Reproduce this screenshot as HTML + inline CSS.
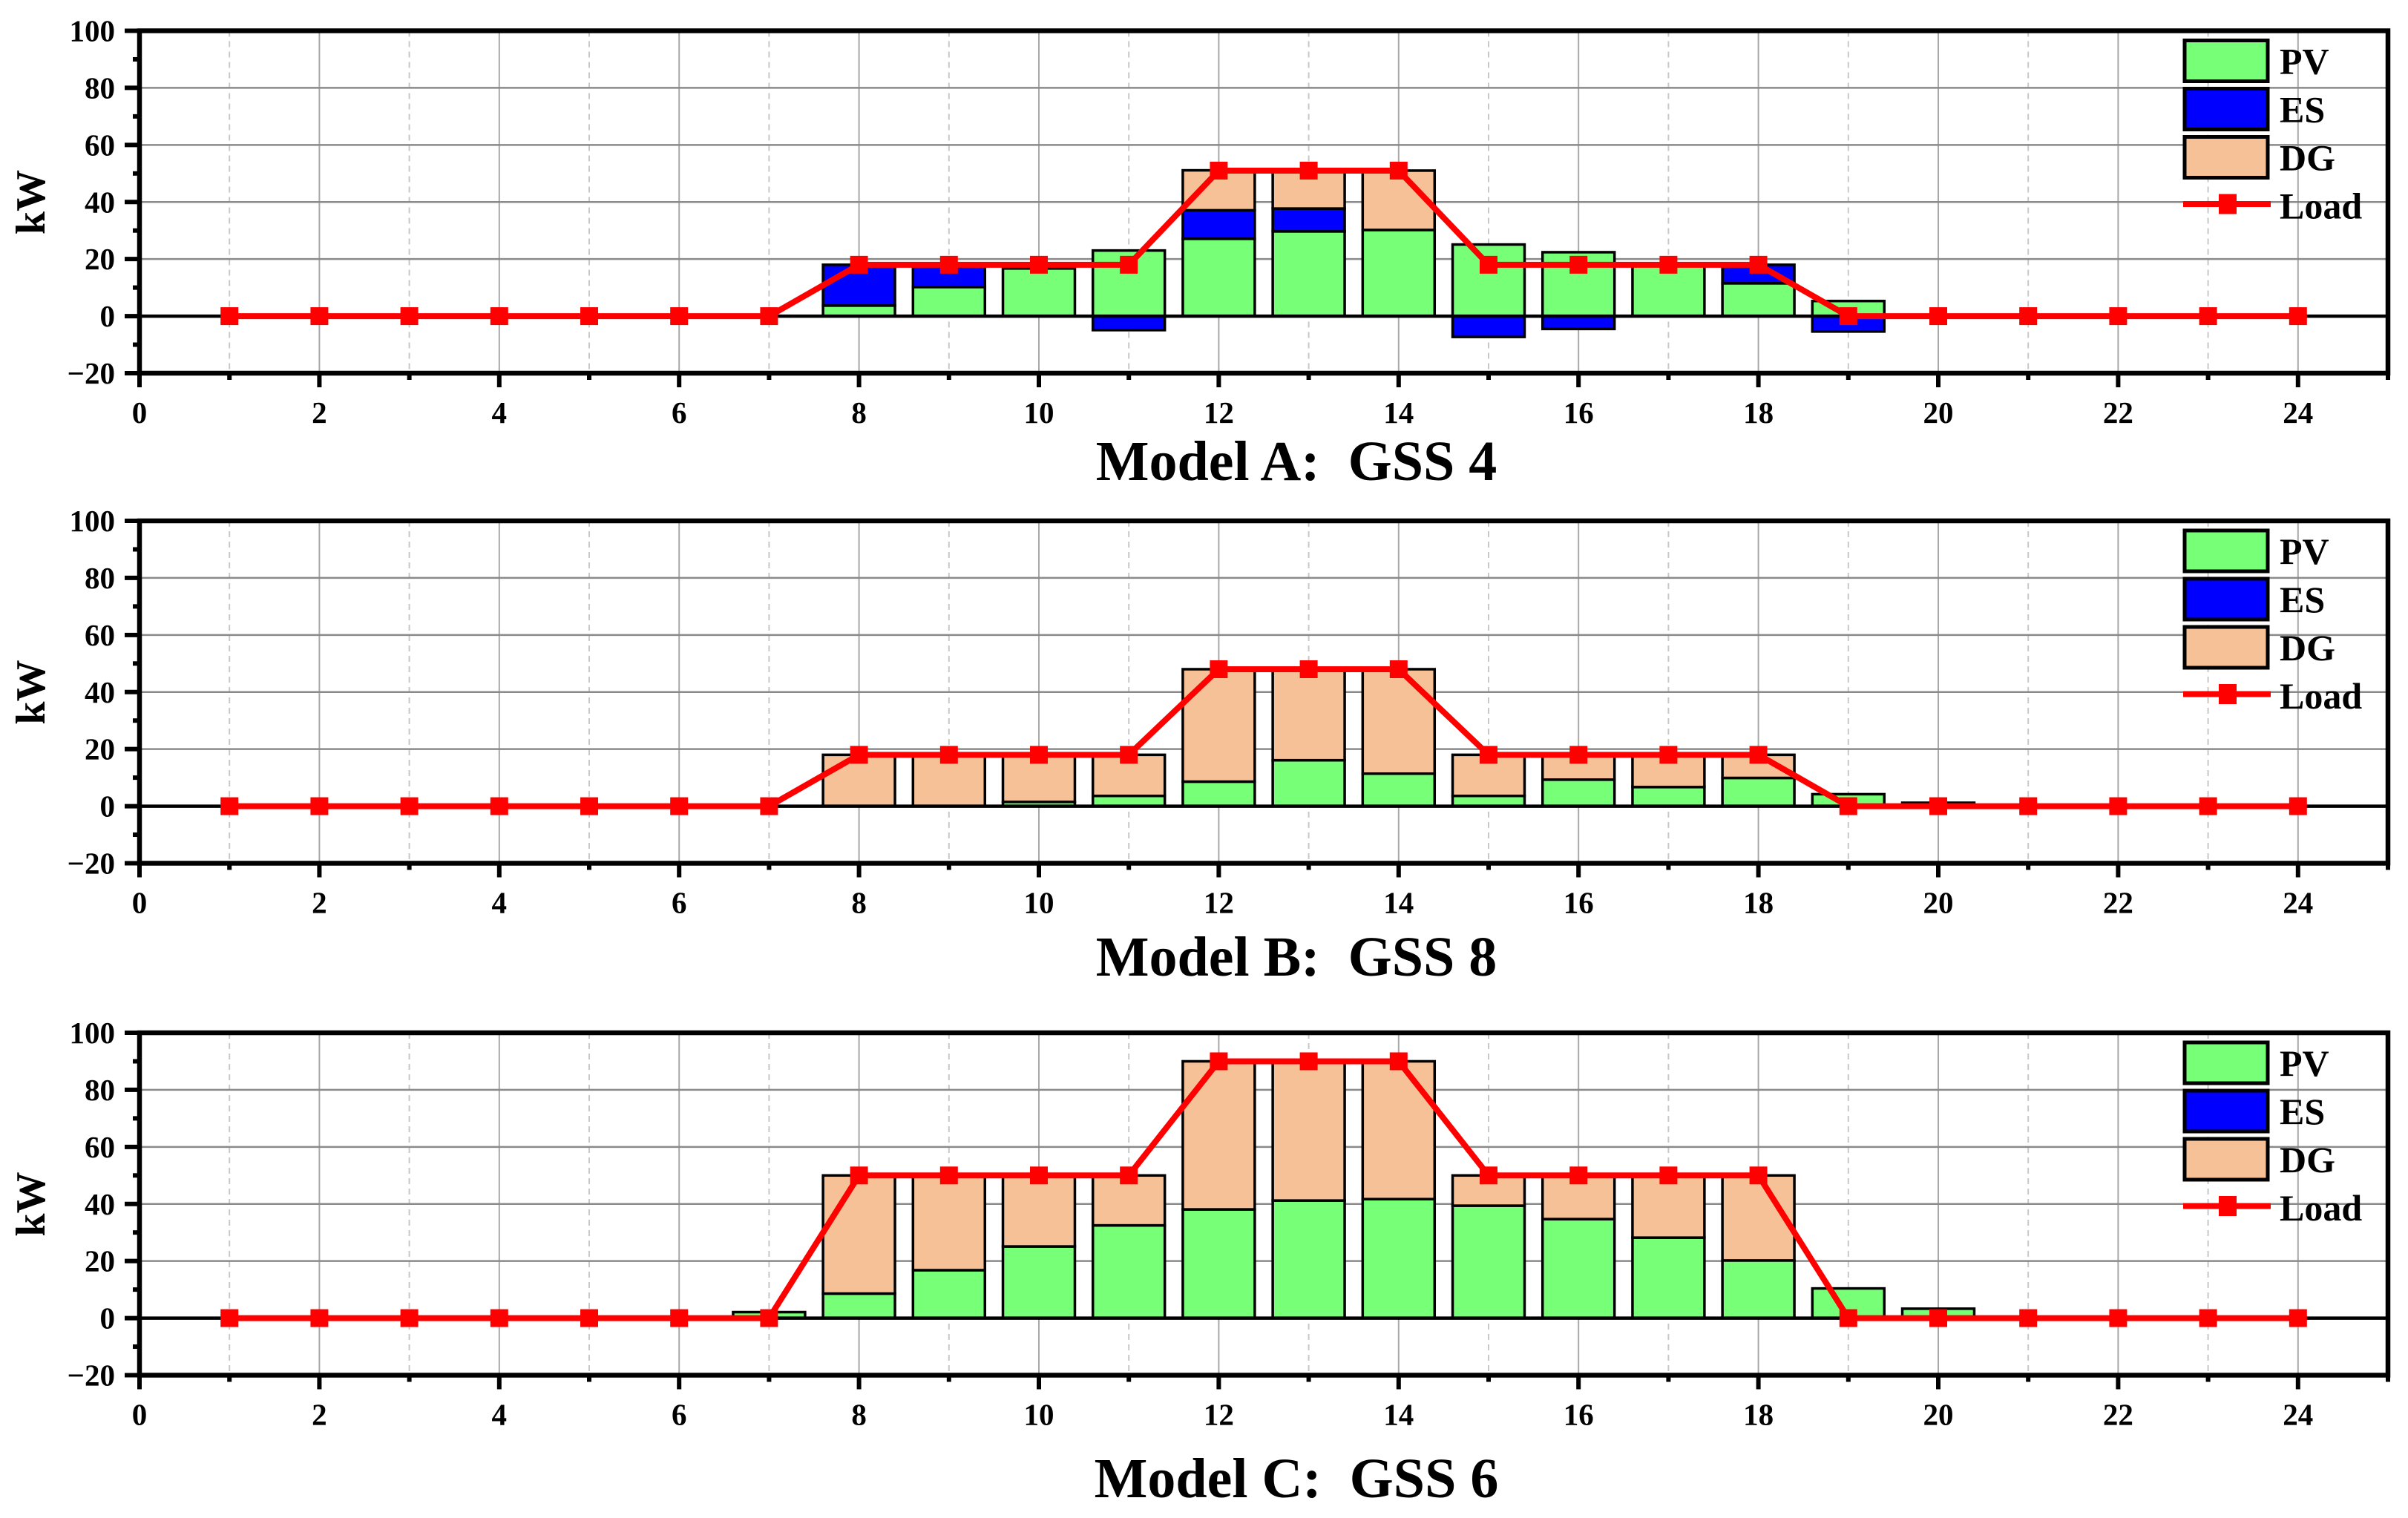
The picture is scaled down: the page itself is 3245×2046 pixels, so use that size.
<!DOCTYPE html>
<html><head><meta charset="utf-8"><style>
html,body{margin:0;padding:0;background:#fff;}
svg{display:block;font-family:"Liberation Serif",serif;font-weight:bold;}
</style></head><body>
<svg id="chart" width="3245" height="2046" viewBox="0 0 3245 2046" xmlns="http://www.w3.org/2000/svg"></svg>
<script>
const hours = [1,2,3,4,5,6,7,8,9,10,11,12,13,14,15,16,17,18,19,20,21,22,23,24];
const titles = ["Model A:\u00a0\u00a0GSS 4","Model B:\u00a0\u00a0GSS 8","Model C:\u00a0\u00a0GSS 6"];
const yTickLabels = ["\u221220","0","20","40","60","80","100"];
const yTickValues = [-20,0,20,40,60,80,100];
const xTickValues = [0,2,4,6,8,10,12,14,16,18,20,22,24];
const legendLabels = ["PV","ES","DG","Load"];
const pvA = [0,0,0,0,0,0,0,3.7,10.2,16.7,23,27.1,29.7,30.2,25.1,22.4,18,11.5,5.3,0,0,0,0,0];
const esA = [0,0,0,0,0,0,0,14.3,7.8,0,-4.9,10,8,0,-7.3,-4.5,0,6.5,-5.4,-0.5,0,0,0,0];
const dgA = [0,0,0,0,0,0,0,0,0,0,0,14,13.3,20.8,0,0,0,0,0,0,0,0,0,0];
const loadA = [0,0,0,0,0,0,0,18,18,18,18,51,51,51,18,18,18,18,0,0,0,0,0,0];
const pvB = [0,0,0,0,0,0,0,0,0,1.5,3.6,8.6,16.1,11.4,3.6,9.3,6.7,9.9,4.2,1.2,0,0,0,0];
const esB = [0,0,0,0,0,0,0,0,0,0,0,0,0,0,0,0,0,0,0,0,0,0,0,0];
const dgB = [0,0,0,0,0,0,0,18,18,16.5,14.4,39.4,31.9,36.6,14.4,8.7,11.3,8.1,0,0,0,0,0,0];
const loadB = [0,0,0,0,0,0,0,18,18,18,18,48,48,48,18,18,18,18,0,0,0,0,0,0];
const pvC = [0,0,0,0,0,0,2.1,8.6,16.8,25.1,32.5,38.1,41.2,41.7,39.4,34.7,28.2,20.2,10.4,3.3,0,0,0,0];
const esC = [0,0,0,0,0,0,0,0,0,0,0,0,0,0,0,0,0,0,0,0,0,0,0,0];
const dgC = [0,0,0,0,0,0,0,41.4,33.2,24.9,17.5,51.9,48.8,48.3,10.6,15.3,21.8,29.8,0,0,0,0,0,0];
const loadC = [0,0,0,0,0,0,0,50,50,50,50,90,90,90,50,50,50,50,0,0,0,0,0,0];

const panelsPV=[pvA,pvB,pvC], panelsES=[esA,esB,esC], panelsDG=[dgA,dgB,dgC], panelsLoad=[loadA,loadB,loadC];
const tops=[41.5,702,1392], titleBase=[647,1315,2018];
const NS="http://www.w3.org/2000/svg";
const svg=document.getElementById('chart');
const X0=188, XU=121.2, PH=461.5, YMIN=-20, YMAX=100;
const xs=v=>X0+v*XU;
function mk(tag,attrs,parent){const e=document.createElementNS(NS,tag);for(const k in attrs)e.setAttribute(k,attrs[k]);(parent||svg).appendChild(e);return e;}
const C={pv:'#77ff77',es:'#0000ff',dg:'#f7c197',load:'#ff0000'};

for(let p=0;p<3;p++){
  const top=tops[p], bottom=top+PH;
  const ys=v=>top+(YMAX-v)/(YMAX-YMIN)*PH;
  const g=mk('g',{});
  
  
  const right=xs(25);
  for(let v=1;v<25;v++){
    const l=mk('line',{x1:xs(v),x2:xs(v),y1:top,y2:bottom,stroke:v%2?'#c8c8c8':'#a8a8a8','stroke-width':2,'stroke-dasharray':v%2?'8 6':'none'},g);
    
    
  }
  [20,40,60,80].forEach(v=>{
    const l=mk('line',{x1:X0,x2:right,y1:ys(v),y2:ys(v),stroke:'#8a8a8a','stroke-width':2.5},g);
    
    
  });
  const bw=0.8*XU;
  hours.forEach((h,i)=>{
    const pv=panelsPV[p][i], es=panelsES[p][i], dg=panelsDG[p][i];
    let base=0;
    const segs=[];
    if(pv>0){segs.push([0,pv,C.pv,'pv']);base=pv;}
    if(es>0){segs.push([base,base+es,C.es,'es']);base+=es;}
    if(dg>0){segs.push([base,base+dg,C.dg,'dg']);base+=dg;}
    if(es<0){segs.push([es,0,C.es,'es']);}
    segs.forEach(s=>{
      const r=mk('rect',{x:xs(h)-bw/2,y:ys(s[1]),width:bw,height:ys(s[0])-ys(s[1]),fill:s[2],stroke:'#000','stroke-width':3.5},g);
      
      
    });
  });
  const z=mk('line',{x1:X0,x2:right,y1:ys(0),y2:ys(0),stroke:'#000','stroke-width':4.5},g);
  
  
  const pts=hours.map((h,i)=>xs(h)+','+ys(panelsLoad[p][i])).join(' ');
  const pl=mk('polyline',{points:pts,fill:'none',stroke:C.load,'stroke-width':8,'stroke-linejoin':'miter'},g);
  
  
  hours.forEach((h,i)=>{
    const m=mk('rect',{x:xs(h)-12,y:ys(panelsLoad[p][i])-12,width:24,height:24,fill:C.load},g);
    
    
  });
  const f=mk('rect',{x:X0,y:top,width:right-X0,height:PH,fill:'none',stroke:'#000','stroke-width':6.5},g);
  
  
  for(let v=-20;v<=100;v+=10){
    const major=v%20===0;
    const t=mk('line',{x1:X0-(major?20:9),x2:X0,y1:ys(v),y2:ys(v),stroke:'#000','stroke-width':6},g);
    
    
  }
  yTickValues.forEach((v,i)=>{
    const t=mk('text',{x:155,y:ys(v)+14,'font-size':41,'text-anchor':'end'},g);
    t.textContent=yTickLabels[i];
    
    
  });
  for(let v=0;v<=25;v++){
    const major=v%2===0;
    const t=mk('line',{x1:xs(v),x2:xs(v),y1:bottom,y2:bottom+(major?19:9),stroke:'#000','stroke-width':6},g);
    
    
  }
  xTickValues.forEach(v=>{
    const t=mk('text',{x:xs(v),y:bottom+67,'font-size':41,'text-anchor':'middle'},g);
    t.textContent=String(v);
    
    
  });
  const yt=mk('text',{x:0,y:0,'font-size':56,'text-anchor':'middle',transform:`translate(60,${top+231}) rotate(-90)`},g);
  yt.textContent='kW';
  
  
  const tt=mk('text',{x:1747,y:titleBase[p],'font-size':76,'text-anchor':'middle'},g);
  tt.textContent=titles[p];
  
  
  const fills=[C.pv,C.es,C.dg];
  for(let k=0;k<3;k++){
    const r=mk('rect',{x:2944,y:top+13+k*65,width:112,height:55,fill:fills[k],stroke:'#000','stroke-width':5},g);
    
    
  }
  const ll=mk('line',{x1:2942,x2:3060,y1:top+233.5,y2:top+233.5,stroke:C.load,'stroke-width':8},g);
  
  
  const lm=mk('rect',{x:2990,y:top+220,width:24,height:27,fill:C.load},g);
  
  
  legendLabels.forEach((lab,k)=>{
    const t=mk('text',{x:3072,y:top+58+k*65,'font-size':50},g);
    t.textContent=lab;
    
    
  });
}
</script>
</body></html>
